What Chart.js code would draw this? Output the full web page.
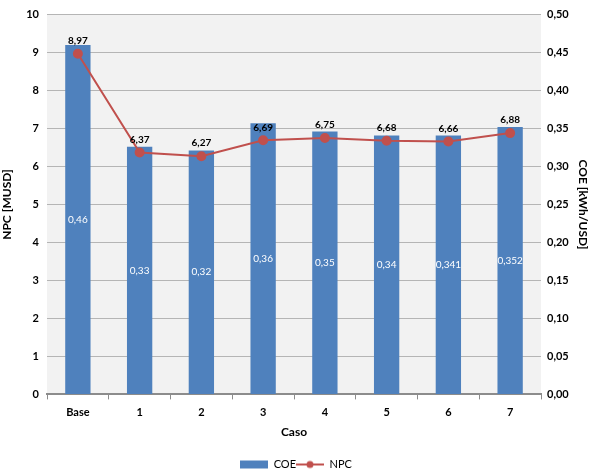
<!DOCTYPE html>
<html>
<head>
<meta charset="utf-8">
<script src="https://cdn.jsdelivr.net/npm/chart.js@4/dist/chart.umd.min.js"></script>
<style>
  html, body { margin: 0; padding: 0; background: #ffffff; }
  #wrap { width: 592px; height: 472px; }
</style>
</head>
<body>
<div id="wrap"><canvas id="chart" width="592" height="472"></canvas></div>
<script>
// Data
const casos = ['Base', '1', '2', '3', '4', '5', '6', '7'];
const coeValues = [0.46, 0.326, 0.321, 0.357, 0.346, 0.341, 0.341, 0.352];
const coeLabels = ['0,46', '0,33', '0,32', '0,36', '0,35', '0,34', '0,341', '0,352'];
const npcValues = [8.97, 6.37, 6.27, 6.69, 6.75, 6.68, 6.66, 6.88];
const npcLabels = ['8,97', '6,37', '6,27', '6,69', '6,75', '6,68', '6,66', '6,88'];

const BLUE = '#4f81bd';
const RED = '#c0504d';
const FONT = 'Lato, "Liberation Sans", sans-serif';

// legend swatches
function makeSwatch(kind) {
    const c = document.createElement('canvas');
    c.width = 28; c.height = 10;
    const g = c.getContext('2d');
    if (kind === 'bar') {
        g.fillStyle = BLUE;
        g.fillRect(0, 1, 28, 8);
    } else {
        g.strokeStyle = RED;
        g.lineWidth = 2;
        g.beginPath();
        g.moveTo(0, 5); g.lineTo(28, 5);
        g.stroke();
        g.fillStyle = RED;
        g.beginPath();
        g.arc(14, 5, 3.5, 0, Math.PI * 2);
        g.fill();
    }
    return c;
}

const plotBackground = {
    id: 'plotBackground',
    beforeDraw(chart) {
        const { ctx, chartArea } = chart;
        ctx.save();
        ctx.fillStyle = '#ffffff';
        ctx.fillRect(0, 0, chart.width, chart.height);
        ctx.fillStyle = '#f2f2f2';
        ctx.fillRect(chartArea.left, chartArea.top, chartArea.right - chartArea.left, chartArea.bottom - chartArea.top);
        ctx.restore();
    }
};

const valueLabels = {
    id: 'valueLabels',
    afterDatasetsDraw(chart) {
        const ctx = chart.ctx;
        ctx.save();
        ctx.textAlign = 'center';

        // COE labels: white, centered inside bars
        const barMeta = chart.getDatasetMeta(0);
        ctx.fillStyle = '#ffffff';
        ctx.font = '10px ' + FONT;
        ctx.textBaseline = 'middle';
        barMeta.data.forEach(function(bar, i) {
            ctx.fillText(coeLabels[i], bar.x, (bar.y + bar.base) / 2);
        });

        // NPC labels: bold black, above the points
        const lineMeta = chart.getDatasetMeta(1);
        ctx.fillStyle = '#000000';
        ctx.font = 'bold 10px ' + FONT;
        ctx.textBaseline = 'bottom';
        lineMeta.data.forEach(function(pt, i) {
            ctx.fillText(npcLabels[i], pt.x, pt.y - 8);
        });
        ctx.restore();
    }
};

const ctx = document.getElementById('chart').getContext('2d');
new Chart(ctx, {
    type: 'bar',
    data: {
        labels: casos,
        datasets: [
            {
                type: 'bar',
                label: 'COE',
                data: coeValues,
                yAxisID: 'y1',
                backgroundColor: BLUE,
                borderWidth: 0,
                categoryPercentage: 1,
                barPercentage: 0.41,
                order: 2
            },
            {
                type: 'line',
                label: 'NPC',
                data: npcValues,
                yAxisID: 'y',
                borderColor: RED,
                backgroundColor: RED,
                borderWidth: 2,
                pointRadius: 4,
                pointHoverRadius: 4,
                tension: 0,
                fill: false,
                order: 1
            }
        ]
    },
    options: {
        responsive: false,
        animation: false,
        layout: { padding: { top: 8, left: 0, right: 0, bottom: -8 } },
        plugins: {
            tooltip: { enabled: false },
            legend: {
                position: 'bottom',
                labels: {
                    usePointStyle: true,
                    pointStyleWidth: 28,
                    color: '#000000',
                    font: { family: FONT, size: 11 },
                    padding: 0,
                    generateLabels: function() {
                        return [
                            { text: 'COE', pointStyle: makeSwatch('bar'), fontColor: '#000', datasetIndex: 0, lineWidth: 0 },
                            { text: 'NPC', pointStyle: makeSwatch('line'), fontColor: '#000', datasetIndex: 1, lineWidth: 0 }
                        ];
                    }
                }
            }
        },
        scales: {
            x: {
                offset: true,
                grid: {
                    offset: true,
                    drawOnChartArea: false,
                    drawTicks: true,
                    tickLength: 5,
                    color: '#8c8c8c'
                },
                border: { display: true, color: '#8c8c8c', width: 2 },
                ticks: {
                    color: '#000000',
                    font: { family: FONT, size: 11, weight: 'bold' },
                    padding: 6
                },
                title: {
                    display: true,
                    text: 'Caso',
                    color: '#000000',
                    font: { family: FONT, size: 12, weight: 'bold' },
                    padding: { top: 0, bottom: 20 }
                }
            },
            y: {
                position: 'left',
                min: 0,
                max: 10,
                ticks: {
                    stepSize: 1,
                    color: '#000000',
                    font: { family: FONT, size: 11, weight: 'bold' },
                    padding: 8
                },
                grid: { color: '#b5b5b5', lineWidth: 1, drawTicks: false },
                border: { display: false },
                title: {
                    display: true,
                    text: 'NPC [MUSD]',
                    color: '#000000',
                    font: { family: FONT, size: 12, weight: 'bold' },
                    padding: { top: 0, bottom: 2 }
                },
                afterFit: function(scale) { scale.width = 47; }
            },
            y1: {
                position: 'right',
                min: 0,
                max: 0.5,
                ticks: {
                    stepSize: 0.05,
                    color: '#000000',
                    font: { family: FONT, size: 11, weight: 'bold' },
                    padding: 6,
                    callback: function(value) {
                        return value.toFixed(2).replace('.', ',');
                    }
                },
                grid: { drawOnChartArea: false, drawTicks: false },
                border: { display: false },
                title: {
                    display: true,
                    text: 'COE [kWh/USD]',
                    color: '#000000',
                    font: { family: FONT, size: 12, weight: 'bold' },
                    padding: { top: 2, bottom: 0 }
                },
                afterFit: function(scale) { scale.width = 51; }
            }
        }
    },
    plugins: [plotBackground, valueLabels]
});
</script>
</body>
</html>
